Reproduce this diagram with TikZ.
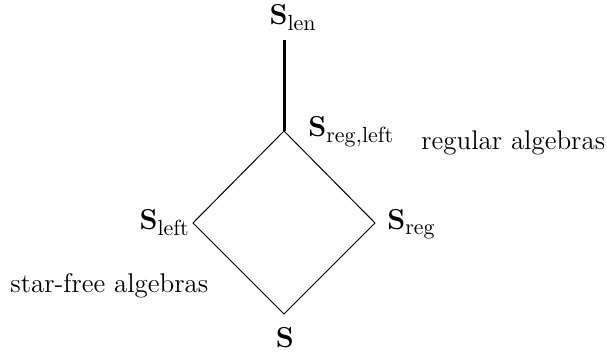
\documentclass[tikz,border=0pt]{standalone}
\usepackage{amsmath}

\tikzset{
  lattLabel/.style={inner sep=0pt,font=\fontsize{15}{18}\selectfont},
  lattNote/.style={inner sep=0pt},
  lattEdge/.style={line width=0.5pt},
  lattStem/.style={line width=1.5pt}
}

\begin{document}
\begin{tikzpicture}[x=0.5pt,y=0.5pt,font=\fontsize{13.5}{16}\selectfont]
  \useasboundingbox (0,0) rectangle (607,356);

  % vertices of the lattice
  \coordinate (lenEnd) at (284,316);
  \coordinate (regLeft) at (284,225);
  \coordinate (leftV) at (193,133);
  \coordinate (regV) at (375,133);
  \coordinate (baseV) at (284,42);

  \draw[lattStem] (lenEnd) -- (regLeft);
  \draw[lattEdge] (regLeft) -- (leftV) -- (baseV) -- (regV) -- cycle;

  \node[lattLabel,anchor=base] (sLen) at (293,331) {$\mathbf{S}_{\mathrm{len}}$};
  \node[lattLabel,anchor=base west] (sRegLeft) at (308,219) {$\mathbf{S}_{\mathrm{reg,left}}$};
  \node[lattLabel,anchor=base east] (sLeft) at (190,126) {$\mathbf{S}_{\mathrm{left}}$};
  \node[lattLabel,anchor=base west] (sReg) at (387,126) {$\mathbf{S}_{\mathrm{reg}}$};
  \node[lattLabel,anchor=base] (sBase) at (285,8) {$\mathbf{S}$};

  \node[lattNote,anchor=base west] (regAlg) at (421,206) {regular algebras};
  \node[lattNote,anchor=base west] (sfAlg) at (10,63) {star-free algebras};
\end{tikzpicture}
\end{document}
